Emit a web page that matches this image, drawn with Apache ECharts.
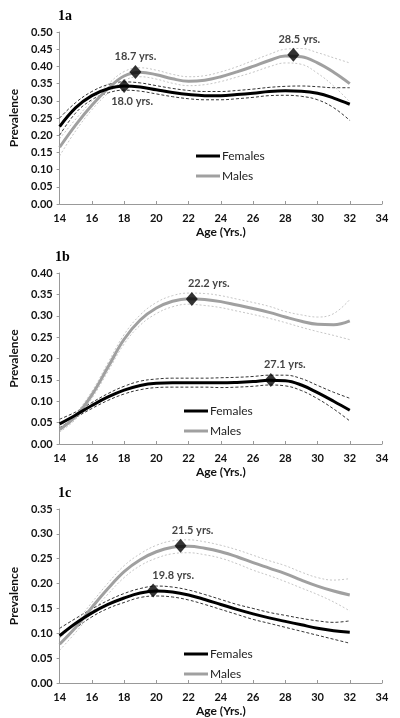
<!DOCTYPE html>
<html>
<head>
<meta charset="utf-8">
<script src="https://cdn.jsdelivr.net/npm/echarts@6/dist/echarts.min.js"></script>
<style>
html,body{margin:0;padding:0;background:#fff;}
#chart{width:400px;height:718px;}
</style>
</head>
<body>
<div id="chart"></div>
<script>
// ---------- DATA ----------
const ages = [14,15,16,17,18,19,20,21,22,23,24,25,26,27,28,29,30,31,32];
const xTicks = [14,16,18,20,22,24,26,28,30,32,34];
const panelTitles = ['1a','1b','1c'];
const yMax = [0.5, 0.4, 0.35];

// Panel 1a
const a_F    = [0.225,0.28,0.315,0.335,0.343,0.34,0.332,0.324,0.318,0.315,0.315,0.318,0.322,0.327,0.329,0.328,0.322,0.308,0.29];
const a_F_hi = [0.25,0.295,0.327,0.347,0.355,0.352,0.344,0.336,0.330,0.327,0.327,0.330,0.334,0.339,0.342,0.343,0.341,0.338,0.338];
const a_F_lo = [0.2,0.265,0.303,0.323,0.331,0.328,0.320,0.312,0.306,0.303,0.303,0.306,0.310,0.315,0.316,0.313,0.303,0.28,0.243];
const a_M    = [0.165,0.23,0.287,0.335,0.372,0.383,0.376,0.364,0.357,0.36,0.37,0.384,0.4,0.417,0.43,0.428,0.41,0.383,0.35];
const a_M_hi = [0.19,0.247,0.3,0.348,0.385,0.396,0.389,0.377,0.37,0.373,0.384,0.399,0.417,0.435,0.45,0.452,0.44,0.425,0.41];
const a_M_lo = [0.14,0.213,0.274,0.322,0.359,0.37,0.363,0.351,0.344,0.347,0.356,0.369,0.383,0.399,0.41,0.406,0.38,0.343,0.297];

// Panel 1b
const b_F    = [0.047,0.068,0.09,0.11,0.126,0.137,0.142,0.143,0.143,0.143,0.143,0.144,0.146,0.149,0.148,0.138,0.12,0.1,0.079];
const b_F_hi = [0.058,0.075,0.097,0.118,0.135,0.147,0.152,0.154,0.154,0.154,0.155,0.156,0.158,0.161,0.161,0.153,0.137,0.121,0.107];
const b_F_lo = [0.038,0.062,0.083,0.102,0.117,0.127,0.132,0.133,0.133,0.133,0.132,0.133,0.135,0.138,0.136,0.125,0.106,0.082,0.054];
const b_M    = [0.034,0.065,0.115,0.18,0.245,0.29,0.318,0.334,0.34,0.338,0.333,0.325,0.317,0.308,0.297,0.287,0.28,0.279,0.288];
const b_M_hi = [0.04,0.072,0.123,0.19,0.256,0.302,0.331,0.347,0.353,0.352,0.347,0.339,0.331,0.322,0.31,0.302,0.297,0.305,0.338];
const b_M_lo = [0.028,0.058,0.107,0.17,0.234,0.278,0.305,0.321,0.327,0.324,0.319,0.311,0.303,0.294,0.284,0.273,0.263,0.254,0.244];

// Panel 1c
const c_F    = [0.095,0.12,0.141,0.158,0.171,0.181,0.185,0.183,0.177,0.168,0.158,0.148,0.139,0.131,0.124,0.117,0.11,0.105,0.102];
const c_F_hi = [0.11,0.13,0.149,0.166,0.18,0.19,0.195,0.193,0.187,0.178,0.168,0.158,0.15,0.142,0.136,0.13,0.125,0.122,0.125];
const c_F_lo = [0.08,0.11,0.133,0.15,0.162,0.172,0.175,0.173,0.167,0.158,0.148,0.138,0.128,0.12,0.112,0.104,0.096,0.088,0.08];
const c_M    = [0.078,0.112,0.152,0.19,0.224,0.248,0.264,0.273,0.275,0.271,0.264,0.254,0.242,0.231,0.22,0.207,0.195,0.185,0.177];
const c_M_hi = [0.09,0.122,0.162,0.201,0.236,0.26,0.277,0.286,0.288,0.284,0.277,0.268,0.257,0.246,0.236,0.223,0.212,0.207,0.21];
const c_M_lo = [0.066,0.102,0.142,0.179,0.212,0.236,0.251,0.26,0.262,0.258,0.251,0.24,0.227,0.216,0.204,0.191,0.178,0.163,0.145];

// Peak markers
const peakPanel  = [0, 0, 0, 1, 1, 2, 2];
const peakAges   = [18.0, 18.7, 28.5, 22.2, 27.1, 19.8, 21.5];
const peakVals   = [0.343, 0.384, 0.434, 0.339, 0.150, 0.186, 0.276];
const peakLabels = ['18.0 yrs.', '18.7 yrs.', '28.5 yrs.', '22.2 yrs.', '27.1 yrs.', '19.8 yrs.', '21.5 yrs.'];

// ---------- LAYOUT / STYLE ----------
const grids = [
  {left: 52, top: 32, width: 330, height: 172},
  {left: 49, top: 273, width: 333, height: 171},
  {left: 52, top: 509, width: 330, height: 174}
];
const legendPos = [{left: 191, top: 145}, {left: 179, top: 400}, {left: 179, top: 643}];
const peakPosition = ['bottom', 'top', 'top', 'top', 'top', 'top', 'top'];
const peakOffsets = [[8, 0], [0, 0], [6, 0], [17, 0], [14, 0], [20, 0], [12, 0]];
const FONT = 'Lato, "Open Sans", sans-serif';
const C_F = '#000000', C_M = '#a0a0a0', C_MCI = '#b8b8b8';

const panels = [
  {F: a_F, Fh: a_F_hi, Fl: a_F_lo, M: a_M, Mh: a_M_hi, Ml: a_M_lo},
  {F: b_F, Fh: b_F_hi, Fl: b_F_lo, M: b_M, Mh: b_M_hi, Ml: b_M_lo},
  {F: c_F, Fh: c_F_hi, Fl: c_F_lo, M: c_M, Mh: c_M_hi, Ml: c_M_lo}
];
const pairs = arr => ages.map((a, i) => [a, arr[i]]);

const xAxes = [], yAxes = [], series = [], titles = [], legends = [];
grids.forEach((g, k) => {
  xAxes.push({
    type: 'value', gridIndex: k, min: 14, max: 34, interval: 2,
    name: 'Age (Yrs.)', nameLocation: 'middle', nameGap: 22,
    nameTextStyle: {fontFamily: FONT, fontWeight: 'bold', fontSize: 12, color: '#111'},
    axisLine: {lineStyle: {color: '#999', width: 1}},
    axisTick: {show: true, inside: true, length: 3, lineStyle: {color: '#999'}},
    axisLabel: {fontFamily: FONT, fontWeight: 'bold', fontSize: 11, color: '#111', margin: 9},
    splitLine: {show: false}
  });
  yAxes.push({
    type: 'value', gridIndex: k, min: 0, max: yMax[k], interval: 0.05,
    name: 'Prevalence', nameLocation: 'middle', nameGap: 36, nameRotate: 90,
    nameTextStyle: {fontFamily: FONT, fontWeight: 'bold', fontSize: 12, color: '#111'},
    axisLine: {show: true, lineStyle: {color: '#999', width: 1}},
    axisTick: {show: true, length: 3, lineStyle: {color: '#999'}},
    axisLabel: {fontFamily: FONT, fontWeight: 'bold', fontSize: 11, color: '#111', margin: 7,
      formatter: v => v.toFixed(2)},
    splitLine: {show: false}
  });
  titles.push({
    text: panelTitles[k], left: g.left + 1, top: g.top - 28,
    textStyle: {fontFamily: '"Liberation Serif", serif', fontWeight: 'bold', fontSize: 14, color: '#000'}
  });
  legends.push({
    data: ['Females', 'Males'], orient: 'vertical', left: legendPos[k].left, top: legendPos[k].top,
    itemWidth: 24, itemHeight: 3, itemGap: 8, icon: 'rect',
    textStyle: {fontFamily: FONT, fontSize: 12, color: '#222', padding: [0, 0, 0, -3]},
    selectedMode: false
  });
  const p = panels[k];
  const base = {type: 'line', xAxisIndex: k, yAxisIndex: k, smooth: 0.4, symbol: 'none', silent: true, z: 2};
  series.push(Object.assign({}, base, {name: 'F_hi_' + k, data: pairs(p.Fh), lineStyle: {color: C_F, width: 0.8, type: [3, 2]}}));
  series.push(Object.assign({}, base, {name: 'F_lo_' + k, data: pairs(p.Fl), lineStyle: {color: C_F, width: 0.8, type: [3, 2]}}));
  series.push(Object.assign({}, base, {name: 'M_hi_' + k, data: pairs(p.Mh), lineStyle: {color: C_MCI, width: 0.8, type: [2, 2]}}));
  series.push(Object.assign({}, base, {name: 'M_lo_' + k, data: pairs(p.Ml), lineStyle: {color: C_MCI, width: 0.8, type: [2, 2]}}));
  series.push(Object.assign({}, base, {name: 'Males', data: pairs(p.M), color: C_M, lineStyle: {color: C_M, width: 3}, z: 3}));
  series.push(Object.assign({}, base, {name: 'Females', data: pairs(p.F), color: C_F, lineStyle: {color: C_F, width: 3}, z: 4}));
  const pk = [];
  peakAges.forEach((a, i) => {
    if (peakPanel[i] === k) {
      pk.push({value: [a, peakVals[i]], label: {
        show: true, formatter: peakLabels[i], position: peakPosition[i],
        offset: peakOffsets[i], fontFamily: FONT, fontWeight: 'bold', fontSize: 11, color: '#111', distance: 3
      }});
    }
  });
  series.push({type: 'scatter', name: 'peak_' + k, xAxisIndex: k, yAxisIndex: k, symbol: 'diamond',
    symbolSize: [12, 14], itemStyle: {color: '#000'}, data: pk, z: 5, silent: true});
});

const chart = echarts.init(document.getElementById('chart'), null, {renderer: 'canvas'});
chart.setOption({
  animation: false,
  backgroundColor: '#fff',
  title: titles,
  legend: legends,
  grid: grids,
  xAxis: xAxes,
  yAxis: yAxes,
  series: series
});
</script>
</body>
</html>
